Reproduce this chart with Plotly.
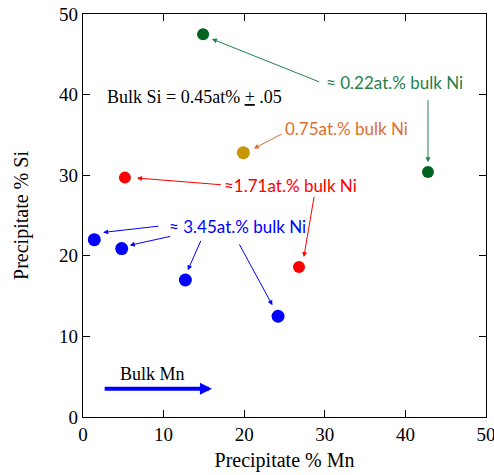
import plotly.graph_objects as go

# Data
green_x = [14.9, 42.8]
green_y = [47.5, 30.4]
orange_x = [19.9]
orange_y = [32.8]
red_x = [5.2, 26.8]
red_y = [29.7, 18.6]
blue_x = [1.4, 4.8, 12.7, 24.2]
blue_y = [22.0, 20.9, 17.0, 12.5]

x_ticks = [0, 10, 20, 30, 40, 50]
y_ticks = [0, 10, 20, 30, 40, 50]

fig = go.Figure()

series = [
    (green_x, green_y, "rgb(0,100,30)", 12),
    (orange_x, orange_y, "rgb(200,150,0)", 13),
    (red_x, red_y, "rgb(255,0,0)", 12),
    (blue_x, blue_y, "rgb(0,0,255)", 13),
]
for xs, ys, c, s in series:
    fig.add_trace(go.Scatter(x=xs, y=ys, mode="markers",
                             marker=dict(color=c, size=s, line=dict(width=0)),
                             showlegend=False, hoverinfo="skip"))

GREEN_T = "rgb(35,130,75)"
ORANGE_T = "rgb(220,110,45)"
SANS = "Lato, 'Open Sans', sans-serif"
SERIF = "'Liberation Serif', 'Times New Roman', serif"

def arrow(tx, ty, hx, hy, color, width=1, size=1.0):
    fig.add_annotation(x=hx, y=hy, ax=tx, ay=ty, xref="x", yref="y",
                       axref="x", ayref="y", text="", showarrow=True,
                       arrowhead=2, arrowsize=size, arrowwidth=width,
                       arrowcolor=color, standoff=0, startstandoff=0)

def label(x, y, text, color, font=SANS, size=17):
    fig.add_annotation(x=x, y=y, xref="x", yref="y", text=text, showarrow=False,
                       font=dict(family=font, size=size, color=color))

# Green
label(38.65, 41.5, "≈ 0.22at.% bulk Ni", GREEN_T)
arrow(29.5, 41.5, 16.0, 46.9, GREEN_T)
arrow(42.8, 39.5, 42.8, 31.6, GREEN_T)
# Bulk Si
label(13.8, 39.7, "Bulk Si = 0.45at% <u>+</u> .05", "black", SERIF, 18)
# Orange
label(32.7, 35.8, "0.75at.% bulk Ni", ORANGE_T)
arrow(24.8, 35.2, 21.2, 33.3, ORANGE_T)
# Red
label(25.7, 28.75, "≈1.71at.% bulk Ni", "rgb(255,0,0)")
arrow(17.3, 28.8, 6.7, 29.65, "rgb(255,0,0)")
arrow(28.7, 27.5, 27.4, 19.85, "rgb(255,0,0)")
# Blue
label(19.2, 23.6, "≈ 3.45at.% bulk Ni", "rgb(0,0,255)")
arrow(9.55, 23.7, 2.5, 22.9, "rgb(0,0,255)")
arrow(11.0, 22.45, 5.8, 21.3, "rgb(0,0,255)")
arrow(14.7, 22.05, 13.0, 18.2, "rgb(0,0,255)")
arrow(19.3, 21.6, 23.5, 13.86, "rgb(0,0,255)")
# Bulk Mn
label(8.6, 5.3, "Bulk Mn", "black", SERIF, 18)
arrow(2.5, 3.5, 16.0, 3.5, "rgb(0,0,255)", width=4, size=0.6)

axis_common = dict(range=[0, 50], showgrid=False, zeroline=False,
                   showline=True, linecolor="black", linewidth=1.3, mirror="ticks",
                   ticks="inside", ticklen=7, tickcolor="black",
                   ticklabeloverflow="allow", automargin=False,
                   tickfont=dict(family=SERIF, size=19, color="black"))

fig.update_layout(
    width=494, height=475,
    margin=dict(l=83, r=8, t=14, b=58),
    paper_bgcolor="white", plot_bgcolor="white",
    xaxis=dict(tickvals=x_ticks, ticktext=[str(v) for v in x_ticks],
               title=dict(text="Precipitate % Mn", font=dict(family=SERIF, size=20, color="black"), standoff=9),
               **axis_common),
    yaxis=dict(tickvals=y_ticks, ticktext=[str(v) for v in y_ticks],
               title=dict(text="Precipitate % Si", font=dict(family=SERIF, size=20, color="black"), standoff=25),
               **axis_common),
)

fig.write_html("out.html")
